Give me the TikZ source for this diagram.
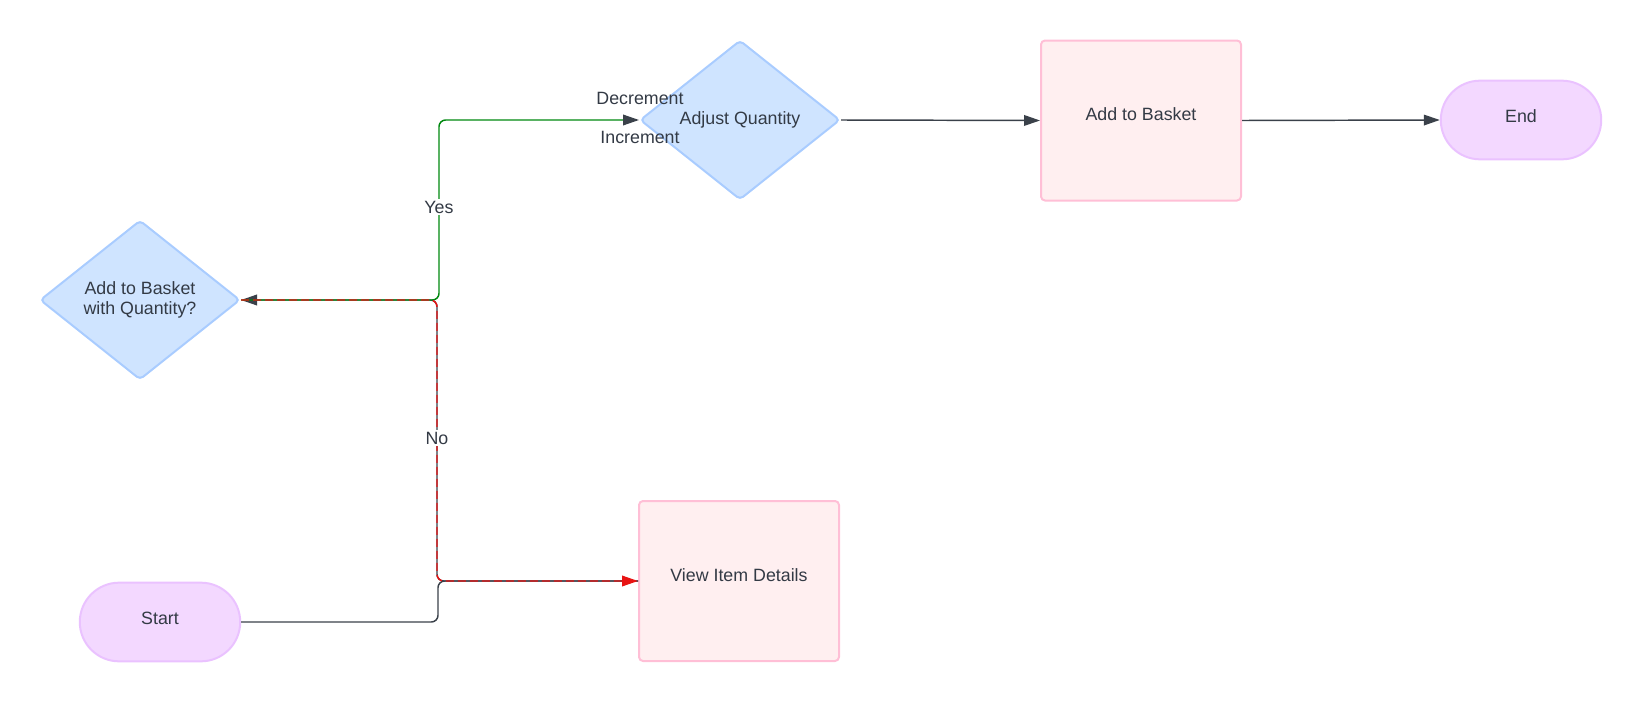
\documentclass[tikz,border=0pt]{standalone}
\usepackage{fontspec}
\setmainfont{Liberation Sans}
\usetikzlibrary{shapes.geometric,shapes.misc,arrows.meta}
\definecolor{txt}{HTML}{333A45}
\definecolor{linegray}{HTML}{3A414A}
\definecolor{lgreen}{HTML}{00880F}
\definecolor{lred}{HTML}{E81313}
\definecolor{dfill}{HTML}{CFE4FF}
\definecolor{dline}{HTML}{A9CCFF}
\definecolor{pfill}{HTML}{FFEFF0}
\definecolor{pline}{HTML}{FFBFD6}
\definecolor{tfill}{HTML}{F3D8FF}
\definecolor{tline}{HTML}{EAC2FF}
\begin{document}
\begin{tikzpicture}[x=0.75pt,y=-0.75pt,
  font=\fontsize{13.35}{15.5}\selectfont,
  every node/.style={text=txt},
  decision/.style={diamond, aspect=1.256, minimum width=150pt, minimum height=119.5pt,
    inner sep=0pt, fill=dfill, draw=dline, line width=1.5pt, rounded corners=3pt, align=center},
  proc/.style={rectangle, minimum width=150pt, minimum height=120pt, fill=pfill,
    draw=pline, line width=1.5pt, rounded corners=3pt, align=center, text depth=9pt},
  term/.style={rounded rectangle, minimum width=127pt, minimum height=59pt, fill=tfill,
    draw=tline, line width=1.5pt, text depth=6pt},
  conn/.style={line width=1.1pt, rounded corners=5pt},
  tip/.style={-{Triangle[length=12pt,width=8pt,color=#1]}},
  lbl/.style={inner sep=1.5pt}
]
\useasboundingbox (0,0) rectangle (1642,703);

\node[decision] (q) at (140,300) {Add to Basket\\with Quantity?};
\node[decision] (adj) at (740,120) {Adjust Quantity};
\node[proc] (add) at (1141,120.5) {Add to Basket};
\node[term] (end) at (1521,120) {End};
\node[proc] (view) at (739,581) {View Item Details};
\node[term] (start) at (160,622) {Start};

\coordinate (s1) at (438,622);
\coordinate (s2) at (438,581);
\coordinate (v1) at (437,581);
\coordinate (v2) at (437,300);
\coordinate (g1) at (439,300);
\coordinate (g2) at (439,120);

% Start -> View Item Details
\draw[conn, draw=linegray] (start.east) -- (s1) -- (s2) -- (view.west);
% View Item Details -> decision
\draw[conn, draw=linegray, tip=linegray] (view.west) -- (v1) -- (v2) -- (q.east);
% Yes
\draw[conn, draw=lgreen, tip=linegray] (q.east) -- (g1) -- (g2) -- (adj.west);
% No
\draw[conn, draw=lred, dash pattern=on 6pt off 3pt, tip=lred] (q.east) -- (v2) -- (v1) -- (view.west);
% Adjust -> Add to Basket -> End
\draw[conn, draw=linegray, tip=linegray] (adj.east) -- (add.west);
\draw[conn, draw=linegray, tip=linegray] (add.east) -- (end.west);

\node[lbl, fill=white] (yes) at (439,207) {Yes};
\node[lbl, fill=white] (no) at (437,438) {No};
\node[lbl] (dec) at (640,98) {Decrement};
\node[lbl] (inc) at (640,137) {Increment};
\end{tikzpicture}
\end{document}
